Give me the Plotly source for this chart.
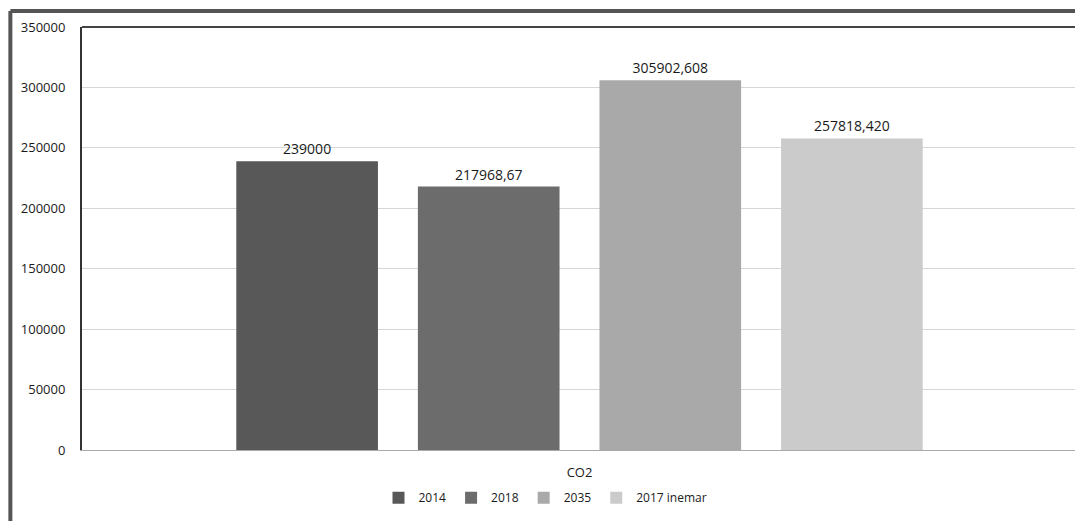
import plotly.graph_objects as go

categories = ["CO2"]
series_names = ["2014", "2018", "2035", "2017 inemar"]
series_values = [239000, 217968.67, 305902.608, 257818.420]
value_labels = ["239000", "217968,67", "305902,608", "257818,420"]
colors = ["#585858", "#6c6c6c", "#a9a9a9", "#cbcbcb"]
y_ticks = [0, 50000, 100000, 150000, 200000, 250000, 300000, 350000]

fig = go.Figure()
for name, val, lab, col in zip(series_names, series_values, value_labels, colors):
    fig.add_trace(go.Bar(
        x=categories, y=[val], name=name, marker=dict(color=col, line=dict(width=0)),
        text=[lab], textposition="outside", cliponaxis=False,
        textfont=dict(size=14, color="#1a1a1a", family="Open Sans"),
    ))

fig.update_layout(
    width=1075, height=513,
    margin=dict(l=74, r=6, t=19, b=71, autoexpand=False),
    paper_bgcolor="white", plot_bgcolor="white",
    barmode="group", bargap=0.27, bargroupgap=0.22,
    font=dict(family="Open Sans", size=13, color="#1a1a1a"),
    showlegend=True,
    legend=dict(orientation="h", x=0.5, xanchor="center", xref="container",
                y=0.017, yanchor="bottom", yref="container",
                font=dict(size=12), itemwidth=30, tracegroupgap=0),
    xaxis=dict(showgrid=False, showline=True, linecolor="#aaaaaa", linewidth=1,
               ticks="", tickfont=dict(size=13), automargin=False, ticklabelstandoff=10),
    yaxis=dict(range=[0, 350000], tickvals=y_ticks, ticktext=[str(v) for v in y_ticks],
               showgrid=True, gridcolor="#d6d6d6", gridwidth=1, automargin=False,
               showline=True, linecolor="#333333", linewidth=2, mirror=False,
               zeroline=False, ticks="", ticklen=0, tickfont=dict(size=13),
               ticklabelstandoff=12),
    shapes=[
        dict(type="line", xref="paper", yref="paper", x0=0, x1=1, y0=1, y1=1,
             line=dict(color="#444444", width=2)),
        dict(type="line", xref="paper", yref="paper", x0=1, x1=1, y0=0, y1=1,
             line=dict(color="#444444", width=2)),
        dict(type="line", xref="paper", yref="paper", x0=-0.072, x1=1.007, y0=1.038, y1=1.038,
             line=dict(color="#555555", width=4)),
        dict(type="line", xref="paper", yref="paper", x0=-0.072, x1=-0.072, y0=-0.17, y1=1.038,
             line=dict(color="#555555", width=4)),
    ],
)

fig.write_html("out.html")
